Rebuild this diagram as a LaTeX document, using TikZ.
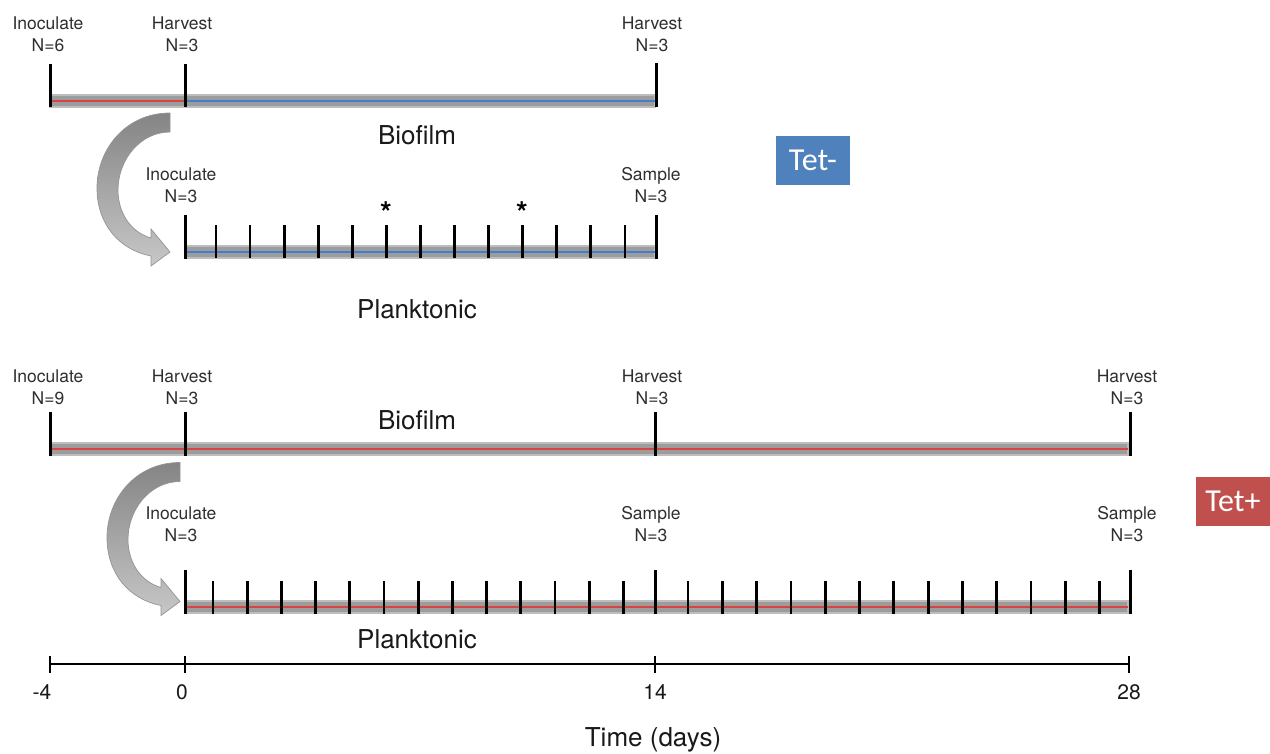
\documentclass[tikz,border=0pt]{standalone}
\usepackage{fontspec}
\setmainfont{TeX Gyre Heros}
\newfontfamily\tetfont{Carlito}
\definecolor{tetblue}{HTML}{4F81BD}
\definecolor{tetred}{HTML}{C0504D}
\definecolor{barcol}{HTML}{9C9C9C}
\definecolor{baredge}{HTML}{BDBDBD}
\definecolor{linered}{HTML}{D84444}
\definecolor{lineblue}{HTML}{3F7ED0}
\begin{document}
\begin{tikzpicture}[x=1pt,y=-1pt,
  lab/.style={font=\fontsize{17.5}{22}\selectfont, text=black!82, align=center, inner sep=0pt, anchor=south},
  big/.style={font=\fontsize{26}{30}\selectfont, text=black!90, inner sep=0pt, anchor=base},
  axl/.style={font=\fontsize{21}{24}\selectfont, text=black!90, inner sep=0pt, anchor=base},
  star/.style={font=\fontsize{30}{32}\selectfont\bfseries, inner sep=0pt, anchor=base},
  bar/.style={fill=barcol, draw=baredge, line width=2pt},
  major/.style={draw=black, line width=3pt},
  minor/.style={draw=black, line width=2.8pt},
  redl/.style={draw=linered, line width=1.2pt},
  bluel/.style={draw=lineblue, line width=1.2pt},
  axisl/.style={draw=black, line width=1.3pt},
  tetbox/.style={minimum width=74pt, minimum height=49pt, inner sep=0pt, text=white, font=\tetfont\fontsize{32}{36}\selectfont},
  carrow/.style={shade, top color=black!48, bottom color=black!22, draw=black!42, line width=0.7pt}
]
\useasboundingbox (0,0) rectangle (1270,753);

% ---------- Tet- : biofilm ----------
\filldraw[bar] (50,95) rectangle (655,107);
\draw[redl] (50,101) -- (185,101);
\draw[bluel] (185,101) -- (655,101);
\draw[major] (50,64) -- (50,107);
\draw[major] (185,64) -- (185,107);
\draw[major] (656,63) -- (656,107);
\node[lab] (t1) at (48,52) {Inoculate\\N=6};
\node[lab] (t2) at (182,52) {Harvest\\N=3};
\node[lab] (t3) at (652,52) {Harvest\\N=3};
\node[big] (bio1) at (417,144) {Biofilm};

% curved arrow 1
\path[carrow] (170,113) .. controls (125,113) and (97,150) .. (97,188)
  .. controls (97,225) and (120,250) .. (151,256)
  -- (151,266) -- (170,252) -- (151,229) -- (151,238)
  .. controls (130,232) and (118,212) .. (118,190)
  .. controls (118,160) and (140,132) .. (170,132) -- cycle;

% ---------- Tet- : planktonic ----------
\filldraw[bar] (185,246) rectangle (655,258);
\draw[bluel] (185,252) -- (655,252);
\foreach \k in {0,...,12} \draw[minor] ({216+34.08*\k},225) -- ++(0,33);
\draw[major] (185,215) -- (185,259);
\draw[major] (656,215) -- (656,259);
\node[lab] (p1) at (181,203) {Inoculate\\N=3};
\node[lab] (p2) at (651,203) {Sample\\N=3};
\node[star] (s1) at (386,223) {*};
\node[star] (s2) at (522,223) {*};
\node[big] (pl1) at (417,318) {Planktonic};

\node[tetbox, fill=tetblue] (tetm) at (813,160.5) {Tet-};

% ---------- Tet+ : biofilm ----------
\filldraw[bar] (50,443) rectangle (1128,455);
\draw[redl] (50,449) -- (1128,449);
\draw[major] (50,412) -- (50,456);
\draw[major] (185,412) -- (185,456);
\draw[major] (655,412) -- (655,456);
\draw[major] (1130,412) -- (1130,456);
\node[lab] (b1) at (48,405) {Inoculate\\N=9};
\node[lab] (b2) at (182,405) {Harvest\\N=3};
\node[lab] (b3) at (652,405) {Harvest\\N=3};
\node[lab] (b4) at (1127,405) {Harvest\\N=3};
\node[big] (bio2) at (417,429) {Biofilm};

% curved arrow 2
\begin{scope}[shift={(10,349.5)}]
\path[carrow] (170,113) .. controls (125,113) and (97,150) .. (97,188)
  .. controls (97,225) and (120,250) .. (151,256)
  -- (151,266) -- (170,252) -- (151,229) -- (151,238)
  .. controls (130,232) and (118,212) .. (118,190)
  .. controls (118,160) and (140,132) .. (170,132) -- cycle;
\end{scope}

% ---------- Tet+ : planktonic ----------
\filldraw[bar] (185,601) rectangle (1128,613);
\draw[redl] (185,607) -- (1128,607);
\foreach \k in {0,...,12} \draw[minor] ({213+34.2*\k},581) -- ++(0,33);
\foreach \k in {0,...,12} \draw[minor] ({688+34.3*\k},581) -- ++(0,33);
\draw[major] (185,570) -- (185,614);
\draw[major] (655,570) -- (655,614);
\draw[major] (1130,570) -- (1130,614);
\node[lab] (q1) at (181,542) {Inoculate\\N=3};
\node[lab] (q2) at (651,542) {Sample\\N=3};
\node[lab] (q3) at (1127,542) {Sample\\N=3};
\node[big] (pl2) at (417,648) {Planktonic};

\node[tetbox, fill=tetred] (tetp) at (1233,501.5) {Tet+};

% ---------- time axis ----------
\draw[axisl] (50,664) -- (1129,664);
\foreach \x in {50,185,655,1129} \draw[axisl] (\x,656) -- (\x,673);
\node[axl] (a1) at (42,699) {-4};
\node[axl] (a2) at (182,699) {0};
\node[axl] (a3) at (655,699) {14};
\node[axl] (a4) at (1129,699) {28};
\node[big] (tx) at (653,746) {Time (days)};
\end{tikzpicture}
\end{document}
